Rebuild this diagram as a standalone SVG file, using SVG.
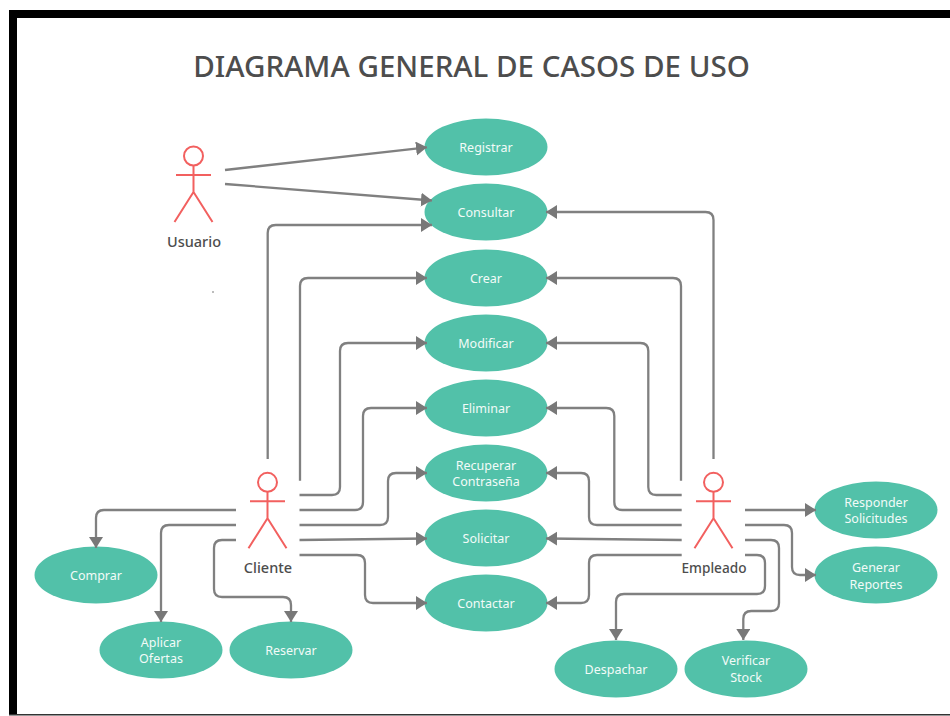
<svg xmlns="http://www.w3.org/2000/svg" width="950" height="716" viewBox="0 0 950 716">
<style>
text{font-family:"Noto Sans","Open Sans",sans-serif;text-anchor:middle}
.u ellipse{fill:#52c1a9}
.u text{fill:#f2fbf8;font-size:12.5px}
.fig{fill:none;stroke:#f2605f;stroke-width:2}
.a text{fill:#4d4d4d;font-size:14.5px;font-weight:500}
#connectors path{fill:none;stroke:#808080;stroke-width:2.300;marker-end:url(#ah)}
</style>
<defs>
<marker id="ah" markerUnits="userSpaceOnUse" markerWidth="13" markerHeight="15" refX="11" refY="7" orient="auto"><path d="M0 0L11 7L0 14Z" fill="#787878"/></marker>
<g id="stick" class="fig"><circle cx="0" cy="-31" r="9.500"/><path d="M0-21.500V5M-17.500-12H17.500M0 5L-19 35M0 5L19 35"/></g>
</defs>
<rect width="950" height="716" fill="#fff"/>
<rect x="9" y="10" width="941" height="8" fill="#000"/>
<rect x="9" y="10" width="8" height="705" fill="#000"/>
<rect x="9" y="714" width="941" height="1.500" fill="#333"/>
<text x="471.500" y="77" font-size="29.500" font-weight="500" fill="#4d4d4d" id="title">DIAGRAMA GENERAL DE CASOS DE USO</text>
<circle cx="213" cy="292" r="0.800" fill="#666"/>
<g id="usuario" class="a"><use href="#stick" x="193.500" y="187"/><text x="194" y="246.500">Usuario</text></g>
<g id="cliente" class="a"><use href="#stick" x="267.500" y="513.300"/><text x="268" y="572.500">Cliente</text></g>
<g id="empleado" class="a"><use href="#stick" x="713.500" y="513.300"/><text x="714" y="573" textLength="65" lengthAdjust="spacingAndGlyphs">Empleado</text></g>
<g id="registrar" class="u"><ellipse cx="486" cy="147" rx="61.500" ry="28.500"/><text x="486" y="152">Registrar</text></g>
<g id="consultar" class="u"><ellipse cx="486" cy="212" rx="61.500" ry="28.500"/><text x="486" y="217">Consultar</text></g>
<g id="crear" class="u"><ellipse cx="486" cy="278" rx="61.500" ry="28.500"/><text x="486" y="282.500">Crear</text></g>
<g id="modificar" class="u"><ellipse cx="486" cy="343" rx="61.500" ry="28.500"/><text x="486" y="347.500">Modificar</text></g>
<g id="eliminar" class="u"><ellipse cx="486" cy="408" rx="61.500" ry="28.500"/><text x="486" y="412.500">Eliminar</text></g>
<g id="recuperar" class="u"><ellipse cx="486" cy="473" rx="61.500" ry="28.500"/><text x="486" y="470">Recuperar</text><text x="486" y="486">Contraseña</text></g>
<g id="solicitar" class="u"><ellipse cx="486" cy="538" rx="61.500" ry="28.500"/><text x="486" y="543">Solicitar</text></g>
<g id="contactar" class="u"><ellipse cx="486" cy="603" rx="61.500" ry="28.500"/><text x="486" y="608">Contactar</text></g>
<g id="comprar" class="u"><ellipse cx="96" cy="575" rx="61.500" ry="28.500"/><text x="96" y="580">Comprar</text></g>
<g id="aplicar" class="u"><ellipse cx="161" cy="650" rx="61.500" ry="28.500"/><text x="161" y="646.500">Aplicar</text><text x="161" y="663">Ofertas</text></g>
<g id="reservar" class="u"><ellipse cx="291" cy="650" rx="61.500" ry="28.500"/><text x="291" y="654.500">Reservar</text></g>
<g id="despachar" class="u"><ellipse cx="616" cy="669" rx="61.500" ry="28.500"/><text x="616" y="673.500">Despachar</text></g>
<g id="verificar" class="u"><ellipse cx="746" cy="669" rx="61.500" ry="28.500"/><text x="746" y="665">Verificar</text><text x="746" y="682">Stock</text></g>
<g id="responder" class="u"><ellipse cx="876" cy="510" rx="61.500" ry="28.500"/><text x="876" y="506.500">Responder</text><text x="876" y="523">Solicitudes</text></g>
<g id="generar" class="u"><ellipse cx="876" cy="575" rx="61.500" ry="28.500"/><text x="876" y="572">Generar</text><text x="876" y="589">Reportes</text></g>
<g id="connectors">
<path d="M225 170L427 147.300"/>
<path d="M225 184L432 200.500"/>
<path d="M267.700 459V233Q267.700 225 275.700 225H432"/>
<path d="M300 480.700V286Q300 278 308 278H427"/>
<path d="M299.500 495H332Q340 495 340 487V351Q340 343 348 343H427"/>
<path d="M299.500 510H355Q363 510 363 502V416Q363 408 371 408H427"/>
<path d="M299.500 525H380Q388 525 388 517V481Q388 473 396 473H427"/>
<path d="M299.500 540L427 538.500"/>
<path d="M299.500 555H357Q365 555 365 563V595Q365 603 373 603H427"/>
<path d="M236 510H104Q96 510 96 518V548"/>
<path d="M236 525H169Q161 525 161 533V622"/>
<path d="M236 540H222Q214 540 214 548V589Q214 597 222 597H283Q291 597 291 605V622"/>
<path d="M713.500 459V220Q713.500 212 705.500 212H546"/>
<path d="M681 480.700V286Q681 278 673 278H546"/>
<path d="M681.700 495H656.300Q648.300 495 648.300 487V351Q648.300 343 640.300 343H546"/>
<path d="M681.700 510H622.300Q614.300 510 614.300 502V416Q614.300 408 606.300 408H546"/>
<path d="M681.700 525H597Q589 525 589 517V481Q589 473 581 473H546"/>
<path d="M681.700 540L546 538.500"/>
<path d="M681.700 555H597Q589 555 589 563V595Q589 603 581 603H546"/>
<path d="M745 510H816"/>
<path d="M745 525H784Q792 525 792 533V567Q792 575 800 575H816"/>
<path d="M745 540H771Q779 540 779 548V603Q779 611 771 611H751.300Q743.300 611 743.300 619V640"/>
<path d="M745 555H757Q765 555 765 563V586Q765 594 757 594H624Q616 594 616 602V640"/>
</g>
</svg>
